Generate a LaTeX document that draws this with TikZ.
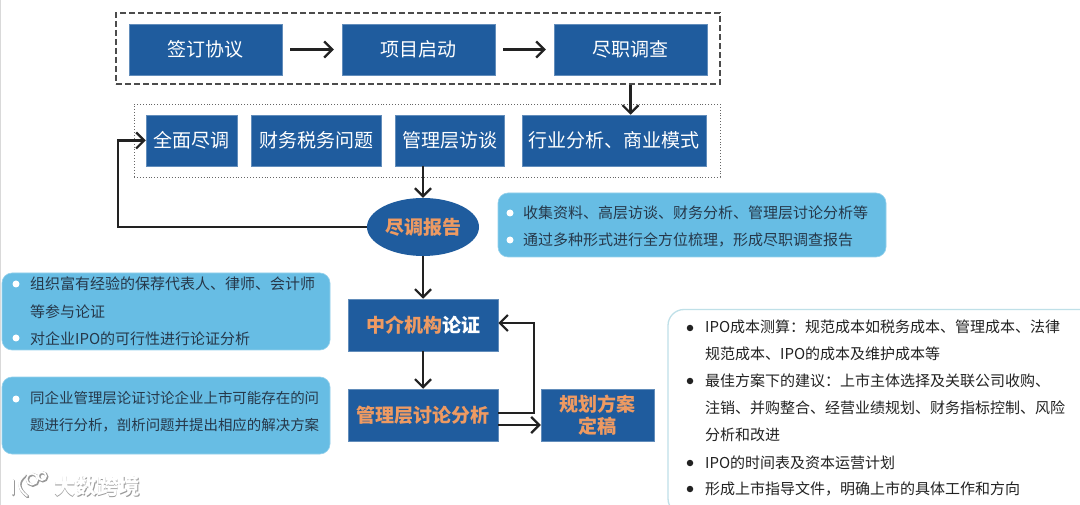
\documentclass[tikz,border=0pt]{standalone}
\usepackage{fontspec}
\setmainfont{Noto Sans CJK SC}
\usetikzlibrary{arrows.meta,shapes.geometric}
\definecolor{boxblue}{HTML}{1F5C9E}
\definecolor{skyblue}{HTML}{67BDE4}
\definecolor{paleedge}{HTML}{BFE0E8}
\definecolor{orangetxt}{HTML}{EE9A62}
\definecolor{darktxt}{HTML}{26384A}
\definecolor{blacktxt}{HTML}{222222}
\definecolor{arrowcol}{HTML}{222222}
\tikzset{
  bluebox/.style={rectangle,fill=boxblue,draw=boxblue!70!white,line width=.5pt,text=white,inner sep=0pt,font=\fontsize{19}{24}\selectfont,align=center},
  orangebox/.style={bluebox,text=orangetxt,font=\fontsize{19}{21.5}\bfseries\selectfont},
  infobox/.style={rectangle,rounded corners=10pt,fill=skyblue,draw=skyblue!70!white,line width=.6pt,inner sep=0pt},
  infoline/.style={anchor=west,inner sep=0pt,text=darktxt,font=\fontsize{15}{18}\selectfont},
  tightline/.style={infoline,font=\fontsize{14.45}{18}\selectfont},
  planline/.style={anchor=west,inner sep=0pt,text=blacktxt,font=\fontsize{15}{18}\selectfont},
  whitedot/.style={circle,fill=white,inner sep=0pt,minimum size=7pt},
  blackdot/.style={circle,fill=blacktxt,inner sep=0pt,minimum size=6.5pt},
  link/.style={draw=arrowcol,line width=2.2pt,-{Straight Barb[length=8pt,width=16pt,line width=2.2pt]}},
  gaplink/.style={link,shorten <=8pt,shorten >=8pt},
  mark text/.style={inner sep=0pt,font=\fontsize{21.5}{24}\bfseries\selectfont}
}
\begin{document}
\begin{tikzpicture}[x=1pt,y=-1pt]
\useasboundingbox (0,0) rectangle (1080,505);
\begin{scope}
\clip (0,0) rectangle (1080,505);
\fill[white] (0,0) rectangle (1080,505);
\fill[black!15] (0,0) rectangle (1,505);

% frames
\node[draw=black!70,dash pattern=on 6pt off 3pt,line width=1.1pt,minimum width=604pt,minimum height=71pt,inner sep=0pt] (frameA) at (418,48.5) {};
\node[draw=black!60,dotted,line width=.9pt,minimum width=586pt,minimum height=73pt,inner sep=0pt] (frameB) at (427,140.5) {};

% first row
\node[bluebox,minimum width=153pt,minimum height=51pt] (sign) at (205.5,49.5) {\raisebox{-1pt}{签订协议}};
\node[bluebox,minimum width=153pt,minimum height=51pt] (start) at (418.5,49.5) {\raisebox{-1pt}{项目启动}};
\node[bluebox,minimum width=153pt,minimum height=51pt] (dd) at (630.5,49.5) {\raisebox{-1pt}{尽职调查}};

% second row
\node[bluebox,minimum width=91pt,minimum height=51pt] (full) at (191.5,140.5) {全面尽调};
\node[bluebox,minimum width=130pt,minimum height=51pt] (tax) at (316,140.5) {财务税务问题};
\node[bluebox,minimum width=109pt,minimum height=51pt] (mgmt) at (449.5,140.5) {管理层访谈};
\node[bluebox,minimum width=184pt,minimum height=51pt] (ind) at (614,140.5) {行业分析、商业模式};

% centre column
\node[ellipse,fill=boxblue,inner sep=0pt,minimum width=112pt,minimum height=58pt,text=orangetxt,font=\fontsize{19}{24}\bfseries\selectfont] (report) at (423,227) {尽调报告};
\node[orangebox,minimum width=150pt,minimum height=52pt] (agency) at (423,325) {中介机构\textcolor{white}{论证}};
\node[orangebox,minimum width=150pt,minimum height=52pt] (disc) at (423,415) {管理层讨论分析};
\node[orangebox,minimum width=113pt,minimum height=52pt] (plan) at (597.5,415) {规划方案\\定稿};

% connectors
\draw[gaplink] (sign) -- (start);
\draw[gaplink] (start) -- (dd);
\draw[link] (frameA.south -| dd) -- (ind.north -| dd);
\draw[link] (mgmt.south -| report) -- (report.north);
\draw[link] (report.west) -- ++(-249,0) |- (full.west);
\draw[link] (report.south) -- (agency.north);
\draw[link] (agency.south) -- (disc.north);
\draw[link] ([yshift=2pt]disc.east) -- ++(36,0) |- ([yshift=2pt]agency.east);
\draw[link] ([yshift=-10pt]disc.east) -- ([yshift=-10pt]plan.west);

% top-right info
\node[infobox,minimum width=388pt,minimum height=64pt] (infoA) at (692,225) {};
\node[whitedot] (da1) at (510,213) {};
\node[whitedot] (da2) at (510,240) {};
\node[infoline] (ta1) at (523,213) {收集资料、高层访谈、财务分析、管理层讨论分析等};
\node[infoline] (ta2) at (523,240) {通过多种形式进行全方位梳理，形成尽职调查报告};

% left info 1
\node[infobox,minimum width=328pt,minimum height=77pt] (infoB) at (166,311.5) {};
\node[whitedot] (db1) at (16,284) {};
\node[whitedot] (db2) at (16,338) {};
\node[infoline] (tb1) at (30,284) {组织富有经验的保荐代表人、律师、会计师};
\node[infoline] (tb2) at (30,312) {等参与论证};
\node[infoline] (tb3) at (30,339) {对企业IPO的可行性进行论证分析};

% left info 2
\node[infobox,minimum width=328pt,minimum height=77pt] (infoC) at (166,415.5) {};
\node[whitedot] (dc1) at (16,399) {};
\node[tightline] (tc1) at (30,398) {同企业管理层论证讨论企业上市可能存在的问};
\node[tightline] (tc2) at (30,425) {题进行分析，剖析问题并提出相应的解决方案};

% right plan box
\node[rectangle,rounded corners=16pt,draw=paleedge,fill=white,line width=1.3pt,minimum width=440pt,minimum height=205pt,inner sep=0pt] (infoD) at (888,412) {};
\node[blackdot] (dd1) at (690,328) {};
\node[blackdot] (dd2) at (690,381) {};
\node[blackdot] (dd3) at (690,463) {};
\node[blackdot] (dd4) at (690,489) {};
\node[planline] (td1) at (705,327) {IPO成本测算：规范成本如税务成本、管理成本、法律};
\node[planline] (td2) at (705,354) {规范成本、IPO的成本及维护成本等};
\node[planline] (td3) at (705,381) {最佳方案下的建议：上市主体选择及关联公司收购、};
\node[planline] (td4) at (705,408) {注销、并购整合、经营业绩规划、财务指标控制、风险};
\node[planline] (td5) at (705,435) {分析和改进};
\node[planline] (td6) at (705,463) {IPO的时间表及资本运营计划};
\node[planline] (td7) at (705,489) {形成上市指导文件，明确上市的具体工作和方向};

% watermark
\foreach \dx/\col/\w in {0.9/black!40/3pt,0/white/1.8pt}{
  \draw[\col,line width=\w,line cap=round] (13+\dx,480+\dx) -- (13+\dx,494+\dx);
  \draw[\col,line width=\w,line cap=round] (25+\dx,475+\dx) .. controls (17+\dx,481+\dx) and (17+\dx,488+\dx) .. (27+\dx,496+\dx);
  \draw[\col,line width=\w] (32+\dx,479+\dx) circle (5.5pt);
  \draw[\col,line width=\w] (42+\dx,476+\dx) circle (4pt);
}
\node[mark text,text=black!40] (markS) at (97.7,487) {大数跨境};
\node[mark text,text=white] (mark) at (97,486.3) {大数跨境};
\end{scope}
\end{tikzpicture}
\end{document}
